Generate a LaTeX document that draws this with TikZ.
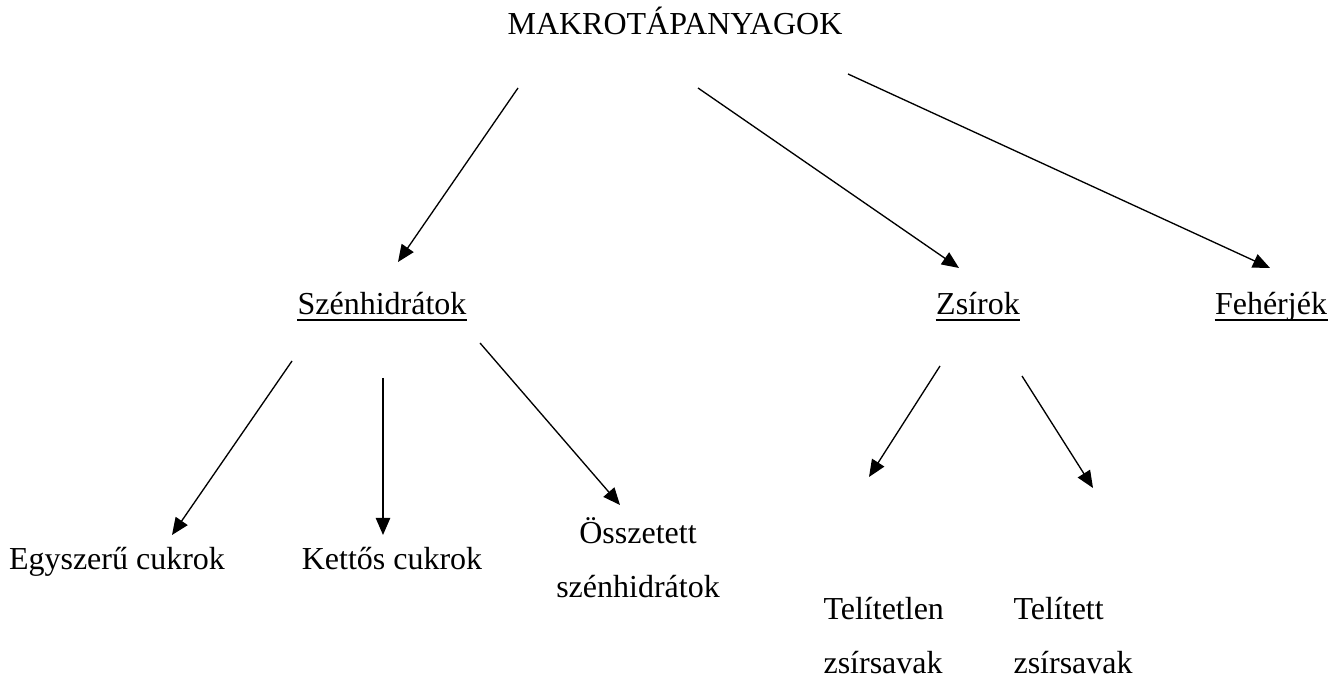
\documentclass[tikz,border=0pt]{standalone}
\usepackage{fontspec}
\setmainfont{Liberation Serif}
\usetikzlibrary{arrows.meta}

\begin{document}
\begin{tikzpicture}[x=0.375pt, y=-0.375pt,
	cimke/.style={font=\fontsize{12}{20.6}\selectfont, inner sep=0pt},
	nyil/.style={-{Triangle[length=6.4pt,width=5.4pt]}, line width=0.5pt}]
	\useasboundingbox (0,0) rectangle (1342,679);
	% cimkek
	\node[cimke, anchor=base] (makro) at (675,35) {MAKROTÁPANYAGOK};
	\node[cimke, anchor=base] (szenh) at (382,315) {Szénhidrátok};
	\node[cimke, anchor=base] (zsir) at (978,315) {Zsírok};
	\node[cimke, anchor=base] (feher) at (1271,315) {Fehérjék};
	\node[cimke, anchor=base] (egysz) at (117,570) {Egyszerű cukrok};
	\node[cimke, anchor=base] (ketto) at (392,570) {Kettős cukrok};
	\node[cimke, anchor=base, align=center] (ossz) at (638,598) {Összetett\\szénhidrátok};
	\node[cimke, anchor=base west, align=left] (telen) at (823,674) {Telítetlen\\zsírsavak};
	\node[cimke, anchor=base west, align=left] (telit) at (1013,674) {Telített\\zsírsavak};
	% alahuzas
	\foreach \n in {szenh,zsir,feher}
		\draw[line width=0.8pt] ([yshift=-1.9pt]\n.base west) -- ([yshift=-1.9pt]\n.base east);
	% nyilak vegpontjai
	\foreach \nev/\x/\y in {m1/518/88, m2/698/88, m3/848/74, sz1/292/361, sz2/383/378,
		sz3/480/343, zs1/940/366, zs2/1022/376}
		\coordinate (\nev) at (\x,\y);
	\foreach \nev/\x/\y in {szenh-t/398/262, zsir-t/959/268, feher-t/1270/268, egysz-t/172/535,
		ketto-t/383/535, ossz-t/620/505, telen-t/869/477, telit-t/1093/488}
		\coordinate (\nev) at (\x,\y);
	% nyilak
	\draw[nyil] (m1) -- (szenh-t);
	\draw[nyil] (m2) -- (zsir-t);
	\draw[nyil] (m3) -- (feher-t);
	\draw[nyil] (sz1) -- (egysz-t);
	\draw[nyil] (sz2) -- (ketto-t);
	\draw[nyil] (sz3) -- (ossz-t);
	\draw[nyil] (zs1) -- (telen-t);
	\draw[nyil] (zs2) -- (telit-t);
\end{tikzpicture}
\end{document}
